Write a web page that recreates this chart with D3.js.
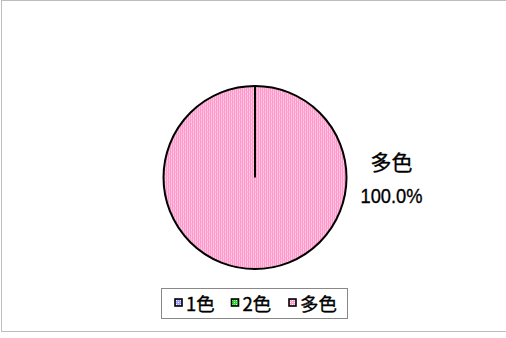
<!DOCTYPE html>
<html lang="ja">
<head>
<meta charset="UTF-8">
<script src="https://cdn.jsdelivr.net/npm/d3@7"></script>
<style>
  body { margin: 0; background: #fff; }
  svg text { font-family: "Noto Sans CJK JP", "Liberation Sans", sans-serif; fill: #000; stroke: #000; stroke-width: 0.35px; }
</style>
</head>
<body>
<div id="chart"></div>
<script>
  // データ
  const categories = ["1色", "2色", "多色"];
  const values = [0, 0, 100];
  const colors = ["#9999ff", "#22dd22", "#ff99cc"];

  const width = 506, height = 338;
  const svg = d3.select("#chart").append("svg")
    .attr("width", width).attr("height", height);

  // パターン（網掛け）
  const defs = svg.append("defs");
  categories.forEach(function (c, i) {
    const p = defs.append("pattern")
      .attr("id", "pat" + i)
      .attr("patternUnits", "userSpaceOnUse")
      .attr("width", 4).attr("height", 4);
    p.append("rect").attr("width", 4).attr("height", 4).attr("fill", colors[i]);
    [[0, 0], [2, 2]].forEach(function (q) {
      p.append("rect").attr("x", q[0]).attr("y", q[1]).attr("width", 1).attr("height", 1).attr("fill", "#fff");
    });
    [[0, 2], [2, 0]].forEach(function (q) {
      p.append("rect").attr("x", q[0]).attr("y", q[1]).attr("width", 1).attr("height", 1)
        .attr("fill", "#fff").attr("opacity", 0.5);
    });
  });

  // 外枠
  svg.append("rect")
    .attr("x", 1.5).attr("y", 0.5)
    .attr("width", width + 10).attr("height", 331)
    .attr("fill", "none").attr("stroke", "#bdbdbd").attr("stroke-width", 1);

  const cx = 255, cy = 177.5, r = 91.5;
  const total = d3.sum(values);
  const pie = d3.pie().sort(null).value(function (d) { return d; });
  const arc = d3.arc().innerRadius(0).outerRadius(r);
  const arcs = pie(values);

  const g = svg.append("g").attr("transform", "translate(" + cx + "," + cy + ")");
  g.selectAll("path")
    .data(arcs.filter(function (d) { return d.data > 0; }))
    .enter().append("path")
    .attr("d", arc)
    .attr("fill", function (d) { return "url(#pat" + d.index + ")"; })
    .attr("stroke", "#000").attr("stroke-width", 2);

  // 100%スライスの境界線
  g.append("line")
    .attr("x1", 0).attr("y1", 0).attr("x2", 0).attr("y2", -r)
    .attr("stroke", "#000").attr("stroke-width", 2);

  // ラベル
  arcs.forEach(function (d, i) {
    if (d.data <= 0) return;
    const lx = cx + 136.5, ly = cy;
    svg.append("text").attr("x", lx).attr("y", ly - 7.5)
      .attr("text-anchor", "middle").attr("font-size", 21)
      .text(categories[i]);
    svg.append("text").attr("x", lx).attr("y", ly + 25.5)
      .attr("text-anchor", "middle").attr("font-size", 21)
      .attr("textLength", 62).attr("lengthAdjust", "spacingAndGlyphs")
      .style("font-family", "'Liberation Sans', Arial, sans-serif")
      .text(d3.format(".1%")(d.data / total));
  });

  // 凡例
  const lg = svg.append("g");
  lg.append("rect")
    .attr("x", 161.5).attr("y", 288.5).attr("width", 186).attr("height", 30)
    .attr("fill", "#fff").attr("stroke", "#888").attr("stroke-width", 1);
  const legendX = [175, 231.5, 289];
  categories.forEach(function (c, i) {
    lg.append("rect")
      .attr("x", legendX[i]).attr("y", 299).attr("width", 7).attr("height", 7)
      .attr("fill", "url(#pat" + i + ")").attr("stroke", "#000").attr("stroke-width", 1.6);
    lg.append("text")
      .attr("x", legendX[i] + 11).attr("y", 311)
      .attr("font-size", 18.5)
      .text(c);
  });
</script>
</body>
</html>
